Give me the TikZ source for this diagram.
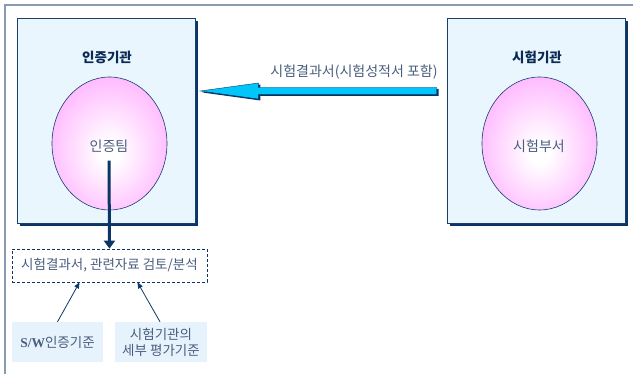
\documentclass[tikz,border=0pt]{standalone}
\usepackage{fontspec}
\setmainfont{Noto Sans CJK KR}
\newfontfamily\kr{Noto Sans CJK KR}
\newfontfamily\serifsw{Liberation Serif}
\usetikzlibrary{arrows.meta,shadows,calc,shapes.geometric}
\definecolor{navy}{HTML}{0B3564}
\definecolor{boxline}{HTML}{1B3F6B}
\definecolor{boxfill}{HTML}{EAF6FD}
\definecolor{critfill}{HTML}{E6F3FC}
\definecolor{pinkc}{HTML}{FFACFF}
\definecolor{txt}{HTML}{4A5D7E}
\definecolor{titlec}{HTML}{0A2A55}
\definecolor{framec}{HTML}{8A9BB0}
\definecolor{cyanc}{HTML}{00C6FA}
\pgfdeclareradialshading{pinkglow}{\pgfpoint{0bp}{-4bp}}{color(0bp)=(white); color(4bp)=(white); color(32bp)=(pinkc); color(50bp)=(pinkc)}
\begin{document}
\begin{tikzpicture}[x=1pt,y=-1pt,
  orgbox/.style={draw=boxline, line width=0.6pt, fill=boxfill, minimum width=178pt, minimum height=205pt, inner sep=0pt,
    drop shadow={shadow xshift=3pt, shadow yshift=-3pt, fill=navy, opacity=1}},
  blob/.style={ellipse, draw=boxline, line width=0.6pt, shading=pinkglow, minimum width=115pt, minimum height=133pt, inner sep=0pt},
  titletxt/.style={font=\fontsize{13.5}{15}\selectfont\bfseries, text=titlec, inner sep=0pt},
  lbl/.style={font=\fontsize{14}{16}\selectfont, text=txt, inner sep=0pt},
  reviewbox/.style={draw=navy, dash pattern=on 3pt off 2pt, line width=0.7pt, minimum width=195pt, minimum height=33pt, inner sep=0pt, font=\fontsize{13.5}{16}\selectfont, text=txt},
  critbox/.style={fill=critfill, minimum height=40pt, inner sep=0pt, font=\fontsize{13.5}{16}\selectfont, text=txt, align=center},
  thinarrow/.style={draw=navy, line width=0.8pt, -{Triangle[length=6pt,width=5pt]}},
  thickarrow/.style={draw=navy, line width=3pt, -{Triangle[length=8pt,width=11pt]}}
]
\useasboundingbox (0,0) rectangle (633,374);
\draw[framec, line width=1.3pt] (633,5) -- (5,5) -- (5,374);

% organisations
\node[orgbox] (cert) at (106,120.5) {};
\node[orgbox] (test) at (536,120.5) {};
\node[titletxt] (certt) at (107,57) {인증기관};
\node[titletxt] (testt) at (537,57) {시험기관};
\node[blob] (team) at (109.5,143.5) {};
\node[blob] (dept) at (539.5,143.5) {};
\node[lbl] (teamt) at (109,146) {인증팀};
\node[lbl] (deptt) at (539,146) {시험부서};

% big arrow from test to cert
\coordinate (bt) at ([xshift=-10pt,yshift=29.5pt]test.west);
\coordinate (bh) at ([xshift=5pt,yshift=29.5pt]cert.east);
\path[fill=navy] ($(bh)+(2,1.5)$) -- ++(58,-8) -- ++(0,4.5) -- ($(bt)+(2,-2)$) -- ($(bt)+(2,5)$) -- ($(bh)+(60,5)$) -- ($(bh)+(60,9.5)$) -- cycle;
\path[fill=cyanc, draw=navy, line width=0.4pt] (bh) -- ++(58,-8) -- ++(0,4.5) -- ($(bt)+(0,-3.5)$) -- ($(bt)+(0,3.5)$) -- ($(bh)+(58,3.5)$) -- ($(bh)+(58,8)$) -- cycle;
\node[lbl] (res) at (354,72) {시험결과서(시험성적서 포함)};

% review
\node[reviewbox] (review) at (109.5,265.5) {시험결과서, 관련자료 검토/분석};
\draw[thickarrow] ([yshift=-8pt]teamt.south) -- (review.north);

% criteria
\node[critbox, minimum width=91pt] (c1) at (57.5,342) {{\serifsw\bfseries S/W}인증기준};
\node[critbox, minimum width=92pt] (c2) at (161,342) {시험기관의\\세부 평가기준};
\draw[thinarrow] (c1.north) -- ([xshift=-30pt]review.south);
\draw[thinarrow] ([xshift=-1pt]c2.north) -- ([xshift=28pt]review.south);
\end{tikzpicture}
\end{document}
